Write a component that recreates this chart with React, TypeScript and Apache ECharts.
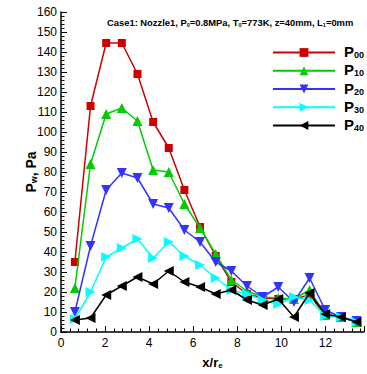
import React, { useEffect, useRef } from 'react';
import * as echarts from 'echarts';

const xValues = [0.63, 1.34, 2.05, 2.76, 3.47, 4.18, 4.89, 5.6, 6.31, 7.02, 7.73, 8.44, 9.15, 9.86, 10.57, 11.28, 11.99, 12.7, 13.41];
const p00 = [35, 113, 144.5, 144.5, 129, 105, 92, 71, 52.5, 38, 25, 19, 17, 16.5, 16.5, 18.5, 8.5, 7.5, 5];
const p10 = [22, 84, 109, 112, 105.5, 81, 80, 64, 52, 39, 26, 20.5, 17.5, 17, 16.5, 21, 8.5, 7.5, 5];
const p20 = [10, 43, 71, 79.5, 77, 64, 62, 51, 45, 35, 30.5, 23, 17.5, 22.5, 15, 27, 11, 7.5, 5.5];
const p30 = [6.5, 20, 37.5, 42, 46.5, 37, 45, 38, 33.5, 27, 21, 19, 16, 14, 17.5, 16, 8, 7.5, 5];
const p40 = [6, 7, 18.5, 23, 27.5, 24, 30.5, 25, 22.5, 19, 21, 16, 13.5, 16.5, 7.5, 19.5, 9, 7.5, 5];

const seriesNames = ['P00', 'P10', 'P20', 'P30', 'P40'];
const seriesValues = [p00, p10, p20, p30, p40];
const colors = ['#cc0000', '#00cc00', '#3333ff', '#00ffff', '#000000'];
const symbols = ['rect', 'triangle', 'triangle', 'triangle', 'triangle'];
const symbolRotations = [0, 0, 180, -90, 90];
const symbolSizes = [8, 10, 10, 10, 10];

const FONT = 'Liberation Sans, Arial, Helvetica, sans-serif';

export default function App() {
  const ref = useRef<HTMLDivElement>(null);
  useEffect(() => {
    if (!ref.current) return;
    const chart = echarts.init(ref.current, null, { renderer: 'svg' });
    const axisCommon = {
      axisLine: { show: true, lineStyle: { color: '#000', width: 1.5 } },
      axisTick: { show: true, inside: true, length: 6, lineStyle: { color: '#000', width: 1 } },
      minorTick: { show: true, splitNumber: 5, length: 3.5, lineStyle: { color: '#000', width: 1 } },
      splitLine: { show: false },
      minorSplitLine: { show: false },
    };
    chart.setOption({
      animation: false,
      backgroundColor: '#fff',
      title: {
        text: '{b|Case1: Nozzle1, P}{s|0}{b|=0.8MPa, T}{s|0}{b|=773K, z=40mm, L}{s|1}{b|=0mm}',
        left: 102,
        top: 12,
        textStyle: {
          fontFamily: FONT,
          rich: {
            b: { fontSize: 9.4, fontWeight: 'bold', color: '#000', fontFamily: FONT, lineHeight: 11 },
            s: { fontSize: 5.5, fontWeight: 'bold', color: '#000', fontFamily: FONT, lineHeight: 5, verticalAlign: 'bottom' },
          },
        },
      },
      legend: {
        orient: 'vertical',
        left: 267,
        top: 38,
        itemWidth: 62,
        itemHeight: 11,
        itemGap: -0.75,
        data: seriesNames,
        formatter: (name: string) => `{p|P}{s|${name.slice(1)}}`,
        textStyle: {
          padding: [0, 0, 0, 4],
          rich: {
            p: { fontSize: 15, fontWeight: 'bold', color: '#000', fontFamily: FONT, lineHeight: 14, padding: [1, 0, 3, 0] },
            s: { fontSize: 9, fontWeight: 'bold', color: '#000', fontFamily: FONT, lineHeight: 9, verticalAlign: 'bottom' },
          },
        },
      },
      grid: { left: 61, right: 0, top: 12, bottom: 30, containLabel: false },
      xAxis: {
        type: 'value',
        min: 0,
        max: 13.75,
        interval: 2,
        ...axisCommon,
        axisLabel: {
          color: '#000',
          fontSize: 12,
          fontFamily: FONT,
          margin: 5,
          formatter: (v: number) => (v % 2 === 0 ? String(v) : ''),
        },
        name: '{b|x/r}{s|e}',
        nameLocation: 'middle',
        nameGap: 23,
        nameMoveOverlap: false,
        nameTextStyle: {
          rich: {
            b: { fontSize: 13, fontWeight: 'bold', color: '#000', fontFamily: FONT, lineHeight: 14 },
            s: { fontSize: 8, fontWeight: 'bold', color: '#000', fontFamily: FONT, lineHeight: 8, verticalAlign: 'bottom' },
          },
        },
      },
      yAxis: {
        type: 'value',
        min: 0,
        max: 160,
        interval: 10,
        ...axisCommon,
        axisLabel: { color: '#000', fontSize: 12, fontFamily: FONT, margin: 4 },
        name: '{b|P}{s|w}{b|, Pa}',
        nameLocation: 'middle',
        nameGap: 23,
        nameMoveOverlap: false,
        nameRotate: 90,
        nameTextStyle: {
          rich: {
            b: { fontSize: 14, fontWeight: 'bold', color: '#000', fontFamily: FONT, lineHeight: 15 },
            s: { fontSize: 9, fontWeight: 'bold', color: '#000', fontFamily: FONT, lineHeight: 9, verticalAlign: 'bottom' },
          },
        },
      },
      series: seriesNames.map((name, k) => ({
        name,
        type: 'line',
        data: xValues.map((x, i) => [x, seriesValues[k][i]]),
        symbol: symbols[k],
        symbolSize: symbolSizes[k],
        symbolRotate: symbolRotations[k],
        showAllSymbol: true,
        lineStyle: { color: colors[k], width: 1.5 },
        itemStyle: { color: colors[k] },
        z: 2 + k,
      })),
    });
    return () => chart.dispose();
  }, []);
  return (
    <div
      ref={ref}
      style={{ position: 'fixed', left: 0, top: 0, width: 367, height: 374, background: '#fff' }}
    />
  );
}
